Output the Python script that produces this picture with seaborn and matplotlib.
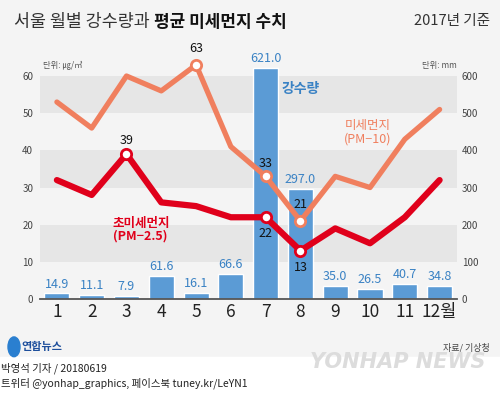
import numpy as np
import pandas as pd
import matplotlib.pyplot as plt
import matplotlib.patches as mpatches
import seaborn as sns

# data (2017, Seoul)
months = ['1', '2', '3', '4', '5', '6', '7', '8', '9', '10', '11', '12월']
rain = [14.9, 11.1, 7.9, 61.6, 16.1, 66.6, 621.0, 297.0, 35.0, 26.5, 40.7, 34.8]
pm10 = [53, 46, 60, 56, 63, 41, 33, 21, 33, 30, 43, 51]
pm25 = [32, 28, 39, 26, 25, 22, 22, 13, 19, 15, 22, 32]
pm10_marked = [4, 6, 7]
pm25_marked = [2, 6, 7]

sns.set_theme(style='white')
plt.rcParams['font.family'] = ['Noto Sans CJK KR', 'DejaVu Sans']

BG = '#f4f4f4'
BAND = '#e6e6e6'
BAR = '#5b9bd5'
BARTXT = '#3a82c4'
C10 = '#f07f5e'
C25 = '#e0001b'

df = pd.DataFrame({'month': months, 'rain': rain, 'pm10': pm10, 'pm25': pm25,
                   'idx': np.arange(len(months))})

fig = plt.figure(figsize=(5, 3.95), dpi=100)
fig.patch.set_facecolor(BG)

ax = fig.add_axes([0.079, 0.243, 0.835, 0.621])
ax.set_facecolor(BG)
for lo in (100, 300, 500):
    ax.axhspan(lo, lo + 100, color=BAND, zorder=0, lw=0)

sns.barplot(data=df, x='month', y='rain', ax=ax, color=BAR, width=0.72,
            saturation=1, zorder=2)
ax.bar_label(ax.containers[0], fmt='%.1f', padding=2, color=BARTXT, fontsize=9)
ax.set_ylim(0, 660)
ax.set_xlim(-0.5, 11.5)
ax.set_yticks(range(0, 601, 100))
ax.set_xlabel('')
ax.set_ylabel('')
ax.tick_params(axis='x', labelsize=12.5, length=0, pad=3, colors='#222')
for s in ('top', 'left', 'right'):
    ax.spines[s].set_visible(False)
ax.spines['bottom'].set_color('#555')
ax.spines['bottom'].set_linewidth(1.3)

ax2 = ax.twinx()
ax2.set_facecolor('none')
sns.lineplot(data=df, x='idx', y='pm10', ax=ax2, color=C10, lw=3.8)
sns.lineplot(data=df, x='idx', y='pm25', ax=ax2, color=C25, lw=4.5)
sns.scatterplot(data=df.iloc[pm10_marked], x='idx', y='pm10', ax=ax2, s=55,
                color='white', edgecolor=C10, linewidth=2, zorder=5)
sns.scatterplot(data=df.iloc[pm25_marked], x='idx', y='pm25', ax=ax2, s=55,
                color='white', edgecolor=C25, linewidth=2, zorder=5)
ax2.set_ylim(0, 66)
ax2.set_xlim(-0.5, 11.5)
ax2.set_yticks(range(0, 61, 10))
ax2.set_xlabel('')
ax2.set_ylabel('')
for s in ax2.spines.values():
    s.set_visible(False)

# rainfall ticks on the right, dust ticks on the left
ax.yaxis.tick_right()
ax2.yaxis.tick_left()
ax.tick_params(axis='y', which='both', left=False, labelleft=False, right=True,
               labelright=True, labelsize=7, length=0, pad=3.5, colors='#444')
ax2.tick_params(axis='y', which='both', right=False, labelright=False, left=True,
                labelleft=True, labelsize=7, length=0, pad=4.5, colors='#444')

offsets10 = {4: 12, 6: 9.5, 7: 12}
offsets25 = {2: 10, 6: -11.5, 7: -12}
for i, dy in offsets10.items():
    ax2.annotate(str(pm10[i]), (i, pm10[i]), xytext=(0, dy), textcoords='offset points',
                 ha='center', va='center', fontsize=9, color='#111')
for i, dy in offsets25.items():
    ax2.annotate(str(pm25[i]), (i, pm25[i]), xytext=(0, dy), textcoords='offset points',
                 ha='center', va='center', fontsize=9, color='#111')

ax2.text(7.0, 56.5, '강수량', color=BARTXT, fontsize=10, fontweight='bold',
         ha='center', va='center')
ax2.text(8.26, 44.9, '미세먼지\n(PM−10)', color=C10, fontsize=9, ha='left',
         va='center', linespacing=1.0)
ax2.text(1.61, 18.6, '초미세먼지\n(PM−2.5)', color=C25, fontsize=9, ha='left',
         va='center', linespacing=1.0, fontweight='bold')

# titles and units
fig.text(0.028, 0.945, '서울 월별 강수량과 ', fontsize=12.5, color='#333', va='center')
fig.text(0.308, 0.945, '평균 미세먼지 수치', fontsize=12.2, color='#111',
         fontweight='bold', va='center')
fig.text(0.98, 0.947, '2017년 기준', fontsize=10.5, color='#333', ha='right',
         va='center', style='italic')
fig.text(0.086, 0.835, '단위: ㎍/㎥', fontsize=6, color='#555', va='center')
fig.text(0.914, 0.835, '단위: mm', fontsize=6, color='#555', va='center', ha='right')

# footer
fig.patches.append(mpatches.Rectangle((0, 0), 1, 0.095, transform=fig.transFigure,
                                      color='white', zorder=0))
fig.patches.append(mpatches.Ellipse((0.028, 0.122), 0.024, 0.05, transform=fig.transFigure,
                                    color='#2a7fd0', zorder=1))
fig.text(0.043, 0.122, '연합뉴스', fontsize=8, color='#1e4f9c', fontweight='bold',
         va='center')
fig.text(0.98, 0.12, '자료/ 기상청', fontsize=6.5, color='#444', ha='right', va='center')
fig.text(0.002, 0.068, '박영석 기자 / 20180619', fontsize=7.5, color='#222', va='center')
fig.text(0.002, 0.030, '트위터 @yonhap_graphics, 페이스북 tuney.kr/LeYN1', fontsize=7.5,
         color='#222', va='center')
fig.text(0.97, 0.083, 'YONHAP NEWS', fontsize=15, color='#dcdcdc', ha='right',
         va='center', fontweight='bold', style='italic', family='DejaVu Sans')

fig.savefig('out.png', dpi=100, facecolor=fig.get_facecolor())
